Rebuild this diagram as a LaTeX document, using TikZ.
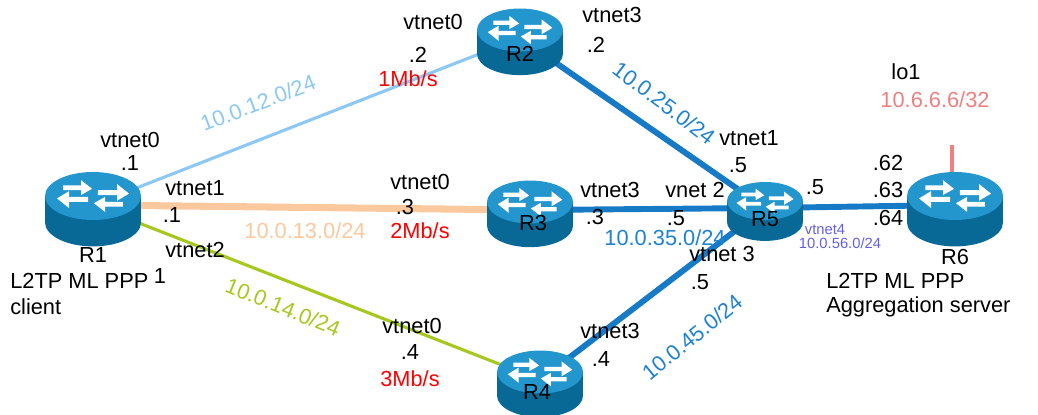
\documentclass[tikz,border=0pt]{standalone}
\usepackage{fontspec}
\setmainfont{Liberation Sans}
\begin{document}
\begin{tikzpicture}[x=0.025cm,y=-0.025cm,
  lbl/.style={font=\fontsize{15.5}{17}\selectfont,inner sep=0pt},
  sml/.style={font=\fontsize{10.5}{12}\selectfont,inner sep=0pt,text=violet},
  net/.style={line width=4.2pt,draw=nblue},
  router/.pic={
    \fill[rbody] (-1,0) rectangle (1,0.55);
    \fill[rbody] (0,0.55) ellipse[x radius=1,y radius=0.5];
    \fill[rtop] (0,0) ellipse[x radius=1,y radius=0.5];
    \foreach \a in {0,180}{\begin{scope}[rotate=\a]
      \fill[white] (0.1,-0.12) -- (0.5,-0.12) -- (0.5,-0.25) -- (0.75,-0.05) -- (0.5,0.1) -- (0.5,-0.02) -- (0.1,-0.02) -- cycle;
      \fill[white] (0.62,0.22) -- (0.25,0.22) -- (0.25,0.33) -- (0.02,0.15) -- (0.25,0.02) -- (0.25,0.12) -- (0.62,0.12) -- cycle;
    \end{scope}}
  }]
\definecolor{rbody}{RGB}{8,104,150}
\definecolor{rtop}{RGB}{34,150,205}
\definecolor{lblue}{RGB}{140,200,245}
\definecolor{peach}{RGB}{252,200,158}
\definecolor{ygreen}{RGB}{166,200,30}
\definecolor{nblue}{RGB}{22,122,198}
\definecolor{tblue}{RGB}{30,130,210}
\definecolor{pinkc}{RGB}{240,128,128}
\definecolor{violet}{RGB}{100,95,230}
\useasboundingbox (0,0) rectangle (1038,414);
% anchors
\coordinate (r1) at (93,205);
\coordinate (r2) at (520,38);
\coordinate (r3) at (530,210);
\coordinate (r4) at (540,380);
\coordinate (r5) at (765,208);
\coordinate (r6) at (955,205);
\coordinate (lo) at (952,145);
\coordinate (lob) at (952,185);
% links
\draw[lblue,line width=2.2pt] (r1) -- (r2);
\draw[peach,line width=5pt] (r1) -- (r3);
\draw[ygreen,line width=2.2pt] (r1) -- (r4);
\draw[net] (r2) -- (r5);
\draw[net] (r3) -- (r5);
\draw[net] (r4) -- (r5);
\draw[net] (r5) -- (r6);
\draw[pinkc,line width=3pt] (lo) -- (lob);
% routers
\pic[scale=48] at (93,196) {router};
\pic[scale=43] at (520,30) {router};
\pic[scale=43] at (530,202) {router};
\pic[scale=43] at (540,372) {router};
\pic[scale=38] at (765,201) {router};
\pic[scale=48] at (955,196) {router};
\node[lbl] (n2) at (520,54) {R2};
\node[lbl] (n3) at (533,223) {R3};
\node[lbl] (n4) at (537,392) {R4};
\node[lbl] (n5) at (765,219) {R5};
\node[lbl] (n1) at (93,255) {R1};
\node[lbl,anchor=west] (c1) at (10,281) {L2TP ML PPP};
\node[lbl,anchor=west] (c2) at (10,307) {client};
\node[lbl] (n6) at (955,257) {R6};
\node[lbl,anchor=west] (a1) at (826,281) {L2TP ML PPP};
\node[lbl,anchor=west] (a2) at (826,307) {Aggregation server};
% labels
\node[lbl] at (433,22) {vtnet0};
\node[lbl] at (418,55) {.2};
\node[lbl,text=red] at (408,79) {1Mb/s};
\node[lbl] at (612,15) {vtnet3};
\node[lbl] at (596,45) {.2};
\node[lbl,text=lblue,rotate=21] at (258,103) {10.0.12.0/24};
\node[lbl,text=tblue,rotate=-37] at (664,103) {10.0.25.0/24};
\node[lbl] at (749,138) {vtnet1};
\node[lbl] at (738,165) {.5};
\node[lbl] at (130,140) {vtnet0};
\node[lbl] at (130,163) {.1};
\node[lbl] at (195,188) {vtnet1};
\node[lbl] at (172,215) {.1};
\node[lbl] at (420,182) {vtnet0};
\node[lbl] at (405,207) {.3};
\node[lbl,text=peach] at (305,231) {10.0.13.0/24};
\node[lbl,text=red] at (420,231) {2Mb/s};
\node[lbl] at (610,190) {vtnet3};
\node[lbl] at (595,217) {.3};
\node[lbl] at (695,190) {vnet 2};
\node[lbl] at (676,218) {.5};
\node[lbl,text=tblue] at (665,238) {10.0.35.0/24};
\node[lbl] at (722,254) {vtnet 3};
\node[lbl] at (700,282) {.5};
\node[lbl] at (815,187) {.5};
\node[sml] at (825,229) {vtnet4};
\node[sml] at (840,243) {10.0.56.0/24};
\node[lbl] at (888,163) {.62};
\node[lbl] at (888,190) {.63};
\node[lbl] at (888,218) {.64};
\node[lbl] at (906,72) {lo1};
\node[lbl,text=pinkc] at (935,100) {10.6.6.6/32};
\node[lbl] at (195,250) {vtnet2};
\node[lbl] at (160,276) {1};
\node[lbl,text=ygreen,rotate=-22] at (283,307) {10.0.14.0/24};
\node[lbl] at (412,326) {vtnet0};
\node[lbl] at (410,352) {.4};
\node[lbl,text=red] at (410,379) {3Mb/s};
\node[lbl] at (610,331) {vtnet3};
\node[lbl] at (601,359) {.4};
\node[lbl,text=tblue,rotate=39] at (692,337) {10.0.45.0/24};
\end{tikzpicture}
\end{document}
